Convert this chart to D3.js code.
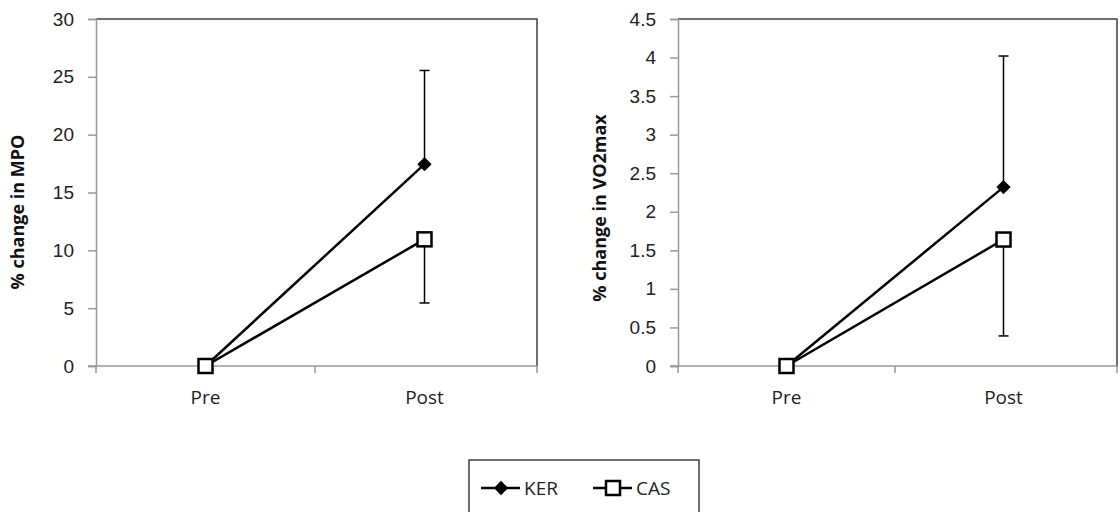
<!DOCTYPE html>
<html>
<head>
<meta charset="utf-8">
<script src="https://cdn.jsdelivr.net/npm/d3@7"></script>
<style>
  body { margin: 0; background: #fff; }
  svg { display: block; font-family: "Open Sans", "Noto Sans", sans-serif; }
</style>
</head>
<body>
<div id="chart-ctn"></div>
<script>
// Data
let phases = ["Pre", "Post"];
let groups = ["KER", "CAS"];

let mpoKER = [0, 17.45];
let mpoCAS = [0, 10.95];
let mpoErrKER = [0, 8.1];   // upper bar only
let mpoErrCAS = [0, 5.5];   // lower bar only
let mpoTicks = [0, 5, 10, 15, 20, 25, 30];

let vo2KER = [0, 2.32];
let vo2CAS = [0, 1.64];
let vo2ErrKER = [0, 1.7];
let vo2ErrCAS = [0, 1.25];
let vo2Ticks = [0, 0.5, 1, 1.5, 2, 2.5, 3, 3.5, 4, 4.5];

let width = 1120;
let height = 512;

let svg = d3.select("#chart-ctn")
    .append("svg")
    .attr("width", width)
    .attr("height", height);

function drawPanel(opts) {
    let x = d3.scaleBand().domain(phases).range([opts.left, opts.bandRight]);
    let y = d3.scaleLinear().domain([0, opts.max]).range([opts.bottom, opts.top]);
    let g = svg.append("g");

    // plot frame (top + right are dark)
    g.append("path")
        .attr("d", `M${opts.left},${opts.top}H${opts.right}V${opts.bottom}`)
        .attr("fill", "none")
        .attr("stroke", "#404040")
        .attr("stroke-width", 1.5);

    // y axis
    let yAxis = d3.axisLeft(y).tickValues(opts.ticks).tickSize(8).tickPadding(14)
        .tickFormat(d3.format("~g"));
    let ya = g.append("g").attr("transform", `translate(${opts.left},0)`).call(yAxis);
    ya.select(".domain").attr("stroke", "#999").attr("stroke-width", 1.5);
    ya.selectAll(".tick line").attr("stroke", "#999").attr("stroke-width", 1.5);
    ya.selectAll(".tick text").attr("fill", "#222").style("font-size", "19px");

    // x axis line with category boundary ticks
    g.append("line")
        .attr("x1", opts.left - 8).attr("x2", opts.right)
        .attr("y1", opts.bottom).attr("y2", opts.bottom)
        .attr("stroke", "#999").attr("stroke-width", 1.5);
    let bounds = [opts.left, opts.left + x.bandwidth(), opts.right];
    g.selectAll(".xtick").data(bounds).join("line")
        .attr("x1", (d) => d).attr("x2", (d) => d)
        .attr("y1", opts.bottom).attr("y2", opts.bottom + 7)
        .attr("stroke", "#999").attr("stroke-width", 1.5);
    g.selectAll(".xlab").data(phases).join("text")
        .attr("x", (d) => x(d) + x.bandwidth() / 2)
        .attr("y", opts.bottom + 38)
        .attr("text-anchor", "middle")
        .attr("fill", "#222")
        .style("font-size", "19px")
        .text((d) => d);

    // axis title
    g.append("text")
        .attr("transform", `translate(${opts.titleX},${opts.titleY}) rotate(-90)`)
        .attr("text-anchor", "middle")
        .attr("font-weight", "bold")
        .attr("fill", "#111")
        .style("font-size", "18px")
        .text(opts.title);

    let cx = (i) => x(phases[i]) + x.bandwidth() / 2;

    // error bars (KER upward, CAS downward)
    let bars = [
        { i: 1, v: opts.ker[1], to: opts.ker[1] + opts.errKer[1] },
        { i: 1, v: opts.cas[1], to: opts.cas[1] - opts.errCas[1] },
    ];
    bars.forEach((b) => {
        g.append("line")
            .attr("x1", cx(b.i)).attr("x2", cx(b.i))
            .attr("y1", y(b.v)).attr("y2", y(b.to))
            .attr("stroke", "#000").attr("stroke-width", 1.5);
        g.append("line")
            .attr("x1", cx(b.i) - 5).attr("x2", cx(b.i) + 5)
            .attr("y1", y(b.to)).attr("y2", y(b.to))
            .attr("stroke", "#000").attr("stroke-width", 1.5);
    });

    let line = d3.line().x((d, i) => cx(i)).y((d) => y(d));
    [opts.ker, opts.cas].forEach((s) => {
        g.append("path")
            .attr("d", line(s))
            .attr("fill", "none")
            .attr("stroke", "#000")
            .attr("stroke-width", 2.5);
    });

    // markers
    g.selectAll(".ker").data(opts.ker).join("path")
        .attr("transform", (d, i) => `translate(${cx(i)},${y(d)})`)
        .attr("d", d3.symbol(d3.symbolDiamond2, 130))
        .attr("fill", "#000");
    g.selectAll(".cas").data(opts.cas).join("rect")
        .attr("x", (d, i) => cx(i) - 7)
        .attr("y", (d) => y(d) - 7)
        .attr("width", 14).attr("height", 14)
        .attr("fill", "#fff")
        .attr("stroke", "#000")
        .attr("stroke-width", 2.5);
}

drawPanel({
    left: 96, right: 537, bandRight: 534, top: 19, bottom: 366,
    max: 30, ticks: mpoTicks,
    ker: mpoKER, cas: mpoCAS, errKer: mpoErrKER, errCas: mpoErrCAS,
    title: "% change in MPO", titleX: 24, titleY: 212,
});

drawPanel({
    left: 678, right: 1117, bandRight: 1112, top: 19, bottom: 366,
    max: 4.5, ticks: vo2Ticks,
    ker: vo2KER, cas: vo2CAS, errKer: vo2ErrKER, errCas: vo2ErrCAS,
    title: "% change in VO2max", titleX: 606, titleY: 208,
});

// Legend
let lg = svg.append("g");
lg.append("rect")
    .attr("x", 469).attr("y", 460)
    .attr("width", 230).attr("height", 60)
    .attr("fill", "#fff")
    .attr("stroke", "#404040")
    .attr("stroke-width", 1.5);

let legendX = d3.scalePoint().domain(groups).range([481, 593]);
groups.forEach((name) => {
    let x0 = legendX(name);
    lg.append("line")
        .attr("x1", x0).attr("x2", x0 + 39)
        .attr("y1", 488).attr("y2", 488)
        .attr("stroke", "#000").attr("stroke-width", 2.5);
    if (name === "KER") {
        lg.append("path")
            .attr("transform", `translate(${x0 + 20},488)`)
            .attr("d", d3.symbol(d3.symbolDiamond2, 130))
            .attr("fill", "#000");
    } else {
        lg.append("rect")
            .attr("x", x0 + 13).attr("y", 481)
            .attr("width", 14).attr("height", 14)
            .attr("fill", "#fff").attr("stroke", "#000").attr("stroke-width", 2.5);
    }
    lg.append("text")
        .attr("x", x0 + 43).attr("y", 495)
        .attr("fill", "#222")
        .style("font-size", "19px")
        .text(name);
});
</script>
</body>
</html>
